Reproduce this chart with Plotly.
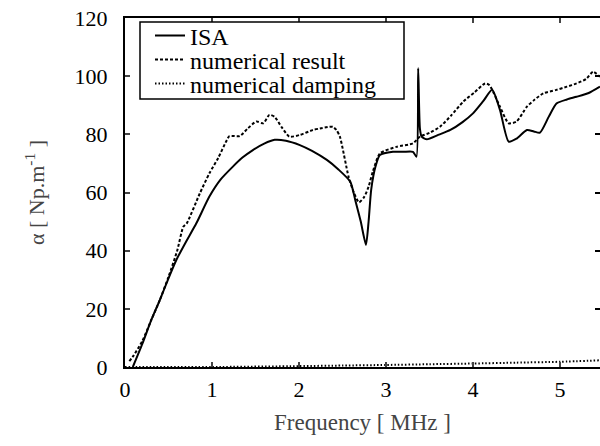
import plotly.graph_objects as go

# ISA (solid)
isa_f = [0.09, 0.2, 0.3, 0.40, 0.50, 0.59, 0.70, 0.82, 0.97, 1.10, 1.24, 1.35, 1.47, 1.60, 1.72, 1.85, 2.01, 2.15, 2.32, 2.45, 2.59, 2.65, 2.71, 2.77, 2.80, 2.83, 2.88, 2.93, 3.08, 3.20, 3.31, 3.35, 3.37, 3.39, 3.41, 3.47, 3.60, 3.74, 3.88, 4.00, 4.12, 4.22, 4.31, 4.41, 4.50, 4.62, 4.70, 4.77, 4.87, 4.96, 5.08, 5.19, 5.33, 5.46]
isa_a = [0.0, 8.0, 16.0, 23.0, 30.5, 36.8, 43.0, 49.4, 58.6, 64.5, 68.9, 72.0, 74.6, 76.8, 78.1, 77.8, 76.3, 74.3, 71.2, 68.0, 63.7, 57.0, 50.0, 42.0, 50.0, 61.0, 69.0, 72.9, 74.0, 74.0, 74.0, 72.3, 102.7, 82.0, 79.2, 78.3, 79.8, 81.5, 84.2, 87.2, 91.5, 95.3, 88.4, 77.5, 78.5, 81.5, 81.0, 80.6, 86.0, 90.6, 92.0, 92.9, 94.2, 96.4]

# numerical result (dashed)
num_f = [0.05, 0.10, 0.20, 0.30, 0.40, 0.50, 0.60, 0.67, 0.71, 0.86, 0.97, 1.07, 1.17, 1.20, 1.32, 1.41, 1.51, 1.59, 1.66, 1.72, 1.80, 1.89, 2.01, 2.16, 2.24, 2.35, 2.39, 2.43, 2.47, 2.57, 2.63, 2.69, 2.75, 2.80, 2.85, 2.93, 3.12, 3.31, 3.39, 3.50, 3.62, 3.75, 3.89, 4.02, 4.14, 4.19, 4.31, 4.41, 4.50, 4.62, 4.71, 4.81, 4.95, 5.08, 5.19, 5.30, 5.38, 5.46]
num_a = [2.0, 4.0, 9.0, 16.0, 23.0, 31.0, 40.0, 48.2, 49.4, 59.7, 66.6, 71.8, 78.0, 79.4, 79.4, 82.0, 84.4, 83.8, 86.7, 86.0, 82.5, 79.2, 79.8, 81.5, 82.0, 82.6, 82.6, 81.5, 79.2, 65.4, 60.0, 56.6, 58.5, 62.0, 67.3, 73.4, 75.7, 76.9, 79.2, 80.5, 82.6, 86.5, 91.3, 94.5, 97.5, 96.9, 89.5, 83.8, 84.4, 89.5, 92.0, 94.1, 95.2, 96.4, 97.5, 99.0, 101.5, 99.8]

# numerical damping (dotted)
damp_f = [0.0, 1.0, 2.0, 2.5, 3.0, 3.5, 4.0, 4.5, 5.0, 5.46]
damp_a = [0.0, 0.0, 0.3, 0.5, 0.7, 0.95, 1.2, 1.5, 1.8, 2.3]

x_ticks = [0, 1, 2, 3, 4, 5]
y_ticks = [0, 20, 40, 60, 80, 100, 120]

FONT = "Liberation Serif"

W, H = 600, 446
L, R, T, B = 125, 600, 18, 367

def px_x(p):  # page pixel -> paper x
    return (p - L) / (R - L)

def px_y(p):  # page pixel -> paper y
    return 1 - (p - T) / (B - T)

fig = go.Figure()
fig.add_trace(go.Scatter(x=isa_f, y=isa_a, mode="lines", name="ISA", legend="legend",
                         line=dict(color="black", width=2, dash="solid", shape="spline", smoothing=0.6)))
fig.add_trace(go.Scatter(x=num_f, y=num_a, mode="lines", name="numerical result", legend="legend2",
                         line=dict(color="black", width=2, dash="3px,2px", shape="spline", smoothing=0.6)))
fig.add_trace(go.Scatter(x=damp_f, y=damp_a, mode="lines", name="numerical damping", legend="legend3",
                         line=dict(color="black", width=2, dash="1.5px,2px", shape="spline", smoothing=0.6)))
# invisible trace on secondary y-axis to produce right-side ticks without a line
fig.add_trace(go.Scatter(x=[0], y=[0], yaxis="y2", mode="lines", showlegend=False,
                         line=dict(width=0), hoverinfo="skip"))

leg_common = dict(xanchor="left", yanchor="middle", bgcolor="rgba(0,0,0,0)", borderwidth=0,
                  font=dict(family=FONT, size=24, color="black"), itemwidth=30)

fig.update_layout(
    width=W, height=H,
    margin=dict(l=L, r=W - R, t=T, b=H - B, autoexpand=False),
    paper_bgcolor="white", plot_bgcolor="white",
    font=dict(family=FONT, size=22, color="black"),
    showlegend=True,
    legend=dict(x=px_x(150), y=px_y(36), **leg_common),
    legend2=dict(x=px_x(150), y=px_y(60), **leg_common),
    legend3=dict(x=px_x(150), y=px_y(84), **leg_common),
    shapes=[dict(type="rect", xref="paper", yref="paper",
                 x0=px_x(140), x1=px_x(404), y0=px_y(99), y1=px_y(22),
                 line=dict(color="black", width=1.5), fillcolor="white", layer="above")],
    xaxis=dict(range=[0, 5.46], tickvals=x_ticks, ticks="inside", ticklen=5, tickwidth=1.5,
               showline=True, linewidth=2, linecolor="black", mirror="ticks",
               showgrid=False, zeroline=False, ticklabelstandoff=2, automargin=False,
               ticklabeloverflow="allow",
               tickfont=dict(family=FONT, size=22, color="black"),
               title=dict(text="Frequency [ MHz ]", font=dict(family=FONT, size=23, color="#444444"), standoff=12)),
    yaxis=dict(range=[0, 120], tickvals=y_ticks, ticks="inside", ticklen=5, tickwidth=1.5,
               showline=True, linewidth=2, linecolor="black", mirror=False,
               showgrid=False, zeroline=False, ticklabelstandoff=11, automargin=False,
               ticklabeloverflow="allow",
               tickfont=dict(family=FONT, size=22, color="black"),
               title=dict(text="α [ Np.m<sup>-1</sup> ]", font=dict(family=FONT, size=22, color="#444444"), standoff=24)),
    yaxis2=dict(range=[0, 120], tickvals=y_ticks, overlaying="y", side="right", ticks="inside",
                ticklen=5, tickwidth=1.5, showticklabels=False, showline=False, automargin=False,
                showgrid=False, zeroline=False, tickcolor="black"),
)

fig.write_html("out.html", config={"displayModeBar": False},
               post_script="document.body.style.margin='0';")
